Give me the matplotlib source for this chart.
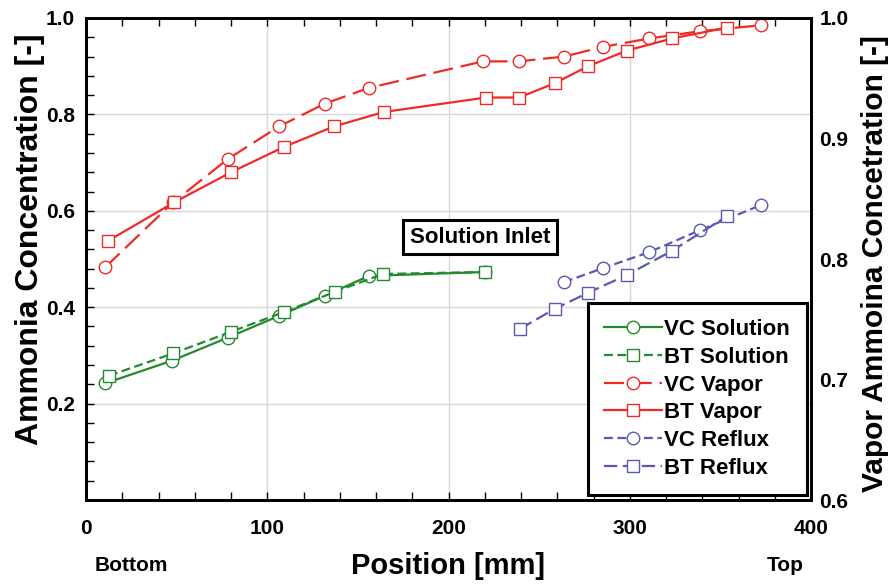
import matplotlib
matplotlib.use("Agg")
import matplotlib.pyplot as plt
from matplotlib.ticker import MultipleLocator

plt.rcParams['font.family'] = ['Liberation Sans', 'DejaVu Sans']
plt.rcParams['font.weight'] = 'bold'

# solution (left axis)
vc_sol_x = [10.5, 47.4, 78.3, 106.5, 131.9, 156.1, 220.1]
vc_sol_y = [0.242, 0.289, 0.337, 0.382, 0.424, 0.465, 0.473]
bt_sol_x = [12.7, 48.0, 80.0, 109.2, 137.4, 163.9, 220.1]
bt_sol_y = [0.258, 0.304, 0.349, 0.390, 0.432, 0.469, 0.473]

# vapor (right axis)
vc_vap_x = [10.5, 48.0, 78.3, 106.5, 131.9, 156.1, 219.0, 238.9, 263.7, 285.2, 310.6, 338.8, 372.4]
vc_vap_y = [0.793, 0.847, 0.883, 0.910, 0.929, 0.942, 0.964, 0.964, 0.968, 0.976, 0.983, 0.989, 0.994]
bt_vap_x = [12.1, 48.6, 80.0, 109.2, 136.8, 164.4, 220.7, 238.9, 258.8, 277.0, 298.5, 323.3, 353.7]
bt_vap_y = [0.815, 0.847, 0.872, 0.893, 0.910, 0.922, 0.934, 0.934, 0.946, 0.960, 0.973, 0.983, 0.992]

# reflux (left axis)
vc_ref_x = [263.7, 285.2, 310.6, 338.8, 372.4]
vc_ref_y = [0.452, 0.481, 0.514, 0.560, 0.612]
bt_ref_x = [239.4, 258.8, 277.0, 298.5, 323.3, 353.7]
bt_ref_y = [0.355, 0.397, 0.430, 0.467, 0.517, 0.589]

green = '#238b2f'
red = '#f02a24'
blue = '#5a5ab4'
ms = 9

fig = plt.figure(figsize=(8.94, 5.84), dpi=100)
ax = fig.add_axes([0.0962, 0.1438, 0.811, 0.8254])
ax2 = ax.twinx()

def mk(color, marker):
    return dict(color=color, marker=marker, markersize=ms, markerfacecolor='white',
                markeredgecolor=color, markeredgewidth=1.0, linewidth=1.6)

l1, = ax.plot(vc_sol_x, vc_sol_y, linestyle='-', label='VC Solution', **mk(green, 'o'))
l2, = ax.plot(bt_sol_x, bt_sol_y, linestyle=(0, (4, 2)), label='BT Solution', **mk(green, 's'))
l5, = ax.plot(vc_ref_x, vc_ref_y, linestyle=(0, (4, 2)), label='VC Reflux', **mk(blue, 'o'))
l6, = ax.plot(bt_ref_x, bt_ref_y, linestyle=(0, (6, 2.5)), label='BT Reflux', **mk(blue, 's'))
l3, = ax2.plot(vc_vap_x, vc_vap_y, linestyle=(0, (9, 3.5)), label='VC Vapor', **mk(red, 'o'))
l4, = ax2.plot(bt_vap_x, bt_vap_y, linestyle='-', label='BT Vapor', **mk(red, 's'))

ax.set_xlim(0, 400)
ax.set_ylim(0, 1.0)
ax2.set_ylim(0.6, 1.0)

ax.xaxis.set_major_locator(MultipleLocator(100))
ax.xaxis.set_minor_locator(MultipleLocator(20))
ax.yaxis.set_minor_locator(MultipleLocator(0.04))
ax.set_yticks([0.2, 0.4, 0.6, 0.8, 1.0])
ax.set_yticklabels(['0.2', '0.4', '0.6', '0.8', '1.0'])
ax.tick_params(which='both', direction='in', top=True, right=False, labelsize=15, pad=8,
               length=6, width=1)
ax.tick_params(axis='x', pad=14)
ax.grid(True, which='major', color='#d8d8d8', linewidth=1)

ax2.set_yticks([0.6, 0.7, 0.8, 0.9, 1.0])
ax2.set_yticklabels(['0.6', '0.7', '0.8', '0.9', '1.0'])
ax2.tick_params(axis='y', length=0, labelsize=15, pad=6)

for a in (ax, ax2):
    for s in a.spines.values():
        s.set_linewidth(2)

ax.text(217.4, 0.545, 'Solution Inlet', fontsize=16, fontweight='bold', ha='center', va='center',
        bbox=dict(boxstyle='square,pad=0.3', facecolor='white', edgecolor='black', linewidth=2.2))

leg = ax2.legend(handles=[l1, l2, l3, l4, l5, l6], loc='lower right', bbox_to_anchor=(0.994, 0.01),
                 borderaxespad=0, fontsize=16, handlelength=2.6, handletextpad=0.1,
                 labelspacing=0.3, fancybox=False, framealpha=1, edgecolor='black',
                 borderpad=0.75)
leg.get_frame().set_linewidth(2.2)

fig.text(0.034, 0.591, 'Ammonia Concentration [-]', rotation=90, ha='center', va='center',
         fontsize=23, fontweight='bold')
fig.text(0.979, 0.548, 'Vapor Ammoina Concetration [-]', rotation=90, ha='center', va='center',
         fontsize=21.5, fontweight='bold')
fig.text(0.501, 0.031, 'Position [mm]', ha='center', va='center', fontsize=21, fontweight='bold')
fig.text(0.147, 0.031, 'Bottom', ha='center', va='center', fontsize=15, fontweight='bold')
fig.text(0.878, 0.031, 'Top', ha='center', va='center', fontsize=15, fontweight='bold')

fig.savefig('out.png', dpi=100)
